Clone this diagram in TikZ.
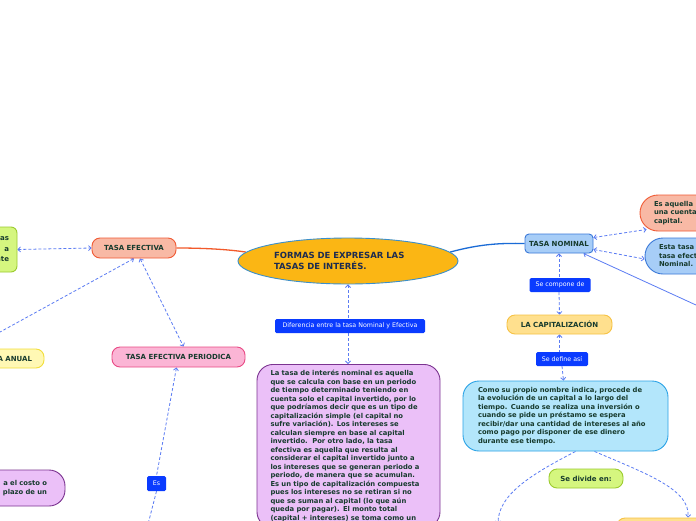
\documentclass[tikz,border=0pt]{standalone}
\usepackage{fontspec}
\setmainfont{DejaVu Sans}
\usetikzlibrary{shapes.geometric, positioning, arrows.meta, backgrounds}

\definecolor{mainfill}{HTML}{FBB614}
\definecolor{mainline}{HTML}{3B8FCB}
\definecolor{titlenavy}{HTML}{1C2B50}
\definecolor{txtgreen}{HTML}{173B2E}
\definecolor{salmonfill}{HTML}{F8B9A5}
\definecolor{salmonline}{HTML}{F05A34}
\definecolor{bluefill}{HTML}{A7CDF7}
\definecolor{blueline}{HTML}{3A78D8}
\definecolor{limefill}{HTML}{D5F67F}
\definecolor{limeline}{HTML}{9BCB2E}
\definecolor{yellowfill}{HTML}{FFF8B4}
\definecolor{yellowline}{HTML}{F2DE3A}
\definecolor{pinkfill}{HTML}{FBB5D5}
\definecolor{pinkline}{HTML}{E94A85}
\definecolor{purplefill}{HTML}{EBC0F8}
\definecolor{purpleline}{HTML}{7B3390}
\definecolor{goldfill}{HTML}{FFE08E}
\definecolor{goldline}{HTML}{F6C244}
\definecolor{cyanfill}{HTML}{B3E6FB}
\definecolor{cyanline}{HTML}{2BA3E6}
\definecolor{relblue}{HTML}{0A3BFF}
\definecolor{linkblue}{HTML}{5B7CF3}
\definecolor{efectivaline}{HTML}{F25A2B}
\definecolor{nominalline}{HTML}{1A6BD6}

\begin{document}
\begin{tikzpicture}[
    x=1pt, y=-1pt,
    topic/.style={rectangle, draw, line width=0.9pt, rounded corners=8pt, font=\fontsize{7}{8.5}\selectfont\bfseries, text=txtgreen, inner sep=0pt},
    note/.style={rectangle, draw, line width=0.9pt, rounded corners=16pt, font=\fontsize{6.8}{8.5}\selectfont\bfseries, text=txtgreen, align=left, inner sep=0pt},
    rel/.style={rectangle, fill=relblue, text=white, rounded corners=1.5pt, font=\fontsize{6.3}{7.5}\selectfont, inner sep=0pt},
    link/.style={draw=linkblue, line width=0.8pt, dash pattern=on 3pt off 2pt},
    solidlink/.style={draw=linkblue, line width=0.8pt},
    trunk/.style={line width=1.3pt},
    >={Straight Barb[length=2.5pt, width=5pt]},
]
\path[use as bounding box] (0,0) rectangle (696,520);
\clip (0,0) rectangle (696,520);

%% NODES
    % central topic
    \node[ellipse, draw=mainline, fill=mainfill, line width=0.9pt, minimum width=220pt, minimum height=46pt, text width=148pt, align=left, text=titlenavy, font=\fontsize{8.5}{11}\selectfont\bfseries] (main) at (348,261) {FORMAS DE EXPRESAR LAS\\TASAS DE INTERÉS.};

    % tasa efectiva
    \node[topic, fill=salmonfill, draw=salmonline, minimum width=84pt, minimum height=20pt] (tasa_efectiva) at (134,248) {TASA EFECTIVA};
    \node[note, fill=limefill, draw=limeline, rounded corners=6pt, minimum width=77pt, minimum height=45pt, text width=61pt, align=right, font=\fontsize{7}{10.5}\selectfont\bfseries] (efectiva_note) at (-21.5,249.5) {as\\a\\nte};
    \node[topic, fill=yellowfill, draw=yellowline, minimum width=104pt, minimum height=19pt, text width=80pt, align=right] (efectiva_anual) at (-8,358.5) {A ANUAL};
    \node[topic, fill=pinkfill, draw=pinkline, minimum width=133pt, minimum height=20pt] (efectiva_periodica) at (178.5,357) {TASA EFECTIVA PERIODICA};
    \node[rel, minimum width=19pt, minimum height=15pt] (es_rel) at (156.5,483.5) {Es};
    \node[note, fill=purplefill, draw=purpleline, minimum width=125pt, minimum height=36pt, text width=89pt, align=right, font=\fontsize{6.8}{9}\selectfont\bfseries] (periodica_note) at (2.5,488) {a el costo o\\plazo de un};
    \coordinate (anual_far) at (-20,343);
    \coordinate (es_far) at (146,532);

    % diferencia
    \node[rel, minimum width=150pt, minimum height=14pt] (diferencia_rel) at (350,326) {Diferencia entre la tasa Nominal y Efectiva};
    \node[note, fill=purplefill, draw=purpleline, anchor=north, text width=156pt, inner xsep=13.5pt, inner ysep=6pt] (diferencia_note) at (348.5,364) {La tasa de interés nominal es aquella\\
que se calcula con base en un periodo\\
de tiempo determinado teniendo en\\
cuenta solo el capital invertido, por lo\\
que podríamos decir que es un tipo de\\
capitalización simple (el capital no\\
sufre variación). Los intereses se\\
calculan siempre en base al capital\\
invertido.\ \ Por otro lado, la tasa\\
efectiva es aquella que resulta al\\
considerar el capital invertido junto a\\
los intereses que se generan periodo a\\
periodo, de manera que se acumulan.\\
Es un tipo de capitalización compuesta\\
pues los intereses no se retiran si no\\
que se suman al capital (lo que aún\\
queda por pagar). El monto total\\
(capital + intereses) se toma como un};

    % tasa nominal
    \node[topic, fill=bluefill, draw=blueline, rounded corners=4pt, minimum width=68pt, minimum height=19pt] (tasa_nominal) at (559,243.5) {TASA NOMINAL};
    \node[note, fill=salmonfill, draw=salmonline, rounded corners=18pt, minimum width=120pt, minimum height=36pt, text width=92pt] (nominal_note_a) at (700,213) {Es aquella\\una cuenta\\capital.};
    \node[note, fill=bluefill, draw=blueline, rounded corners=18pt, minimum width=115pt, minimum height=36pt, text width=87pt] (nominal_note_b) at (702.5,256) {Esta tasa\\tasa efect\\Nominal.};
    \coordinate (nominal_far) at (720,316);
    \node[rel, minimum width=61pt, minimum height=14pt] (compone_rel) at (560,285) {Se compone de};
    \node[topic, fill=goldfill, draw=goldline, minimum width=105pt, minimum height=19pt] (capitalizacion) at (559.5,324.5) {LA CAPITALIZACIÓN};
    \node[rel, minimum width=52pt, minimum height=14pt] (define_rel) at (562,359) {Se define así};
    \node[note, fill=cyanfill, draw=cyanline, minimum width=205pt, minimum height=70pt, text width=175pt] (capitalizacion_note) at (565.5,416) {Como su propio nombre indica, procede de\\
la evolución de un capital a lo largo del\\
tiempo. Cuando se realiza una inversión o\\
cuando se pide un préstamo se espera\\
recibir/dar una cantidad de intereses al año\\
como pago por disponer de ese dinero\\
durante ese tiempo.};
    \node[topic, fill=limefill, draw=limeline, minimum width=74pt, minimum height=19pt] (divide_rel) at (586,478.5) {Se divide en:};
    \node[topic, fill=goldfill, draw=goldline, minimum width=142pt, minimum height=44pt] (divide_right) at (688,540) {};
    \coordinate (divide_left) at (498,524);

%% CONNECTIONS
\begin{scope}[on background layer]
    \fill[white] (0,0) rectangle (696,520);

    % main branches
    \draw[trunk, draw=efectivaline] (tasa_efectiva.east) .. controls (210,248) and (232,250) .. (main.175);
    \draw[trunk, draw=nominalline] (main.5) .. controls (480,244) and (500,243) .. (tasa_nominal.west);

    % tasa efectiva
    \draw[link, <->] (efectiva_note.east) -- (tasa_efectiva.west);
    \draw[link, <-] (tasa_efectiva.south) -- (anual_far);
    \draw[link, <->] ([xshift=6pt]tasa_efectiva.south) -- ([xshift=5pt]efectiva_periodica.north);
    \draw[link, <-] ([xshift=-2pt]efectiva_periodica.south) -- (es_rel.north);
    \draw[link] (es_rel.south) -- (es_far);

    % diferencia
    \draw[link, <-] (main.south) -- (main.south |- diferencia_rel.north);
    \draw[link, ->] (main.south |- diferencia_rel.south) -- (main.south |- diferencia_note.north);

    % tasa nominal
    \draw[link, <->] ([yshift=-4pt]tasa_nominal.north east) -- ([xshift=7pt, yshift=2pt]nominal_note_a.south west);
    \draw[link, <->] ([yshift=-6pt]tasa_nominal.east) -- ([yshift=-3pt]nominal_note_b.west);
    \draw[solidlink, <-] ([xshift=-10pt]tasa_nominal.south east) -- (nominal_far);
    \draw[link, <-] (tasa_nominal.south) -- (tasa_nominal.south |- compone_rel.north);
    \draw[link, ->] (tasa_nominal.south |- compone_rel.south) -- (capitalizacion.north);
    \draw[link, <-] (capitalizacion.south) -- (capitalizacion.south |- define_rel.north);
    \draw[link, ->] (define_rel.south) -- ([xshift=-2pt]capitalizacion_note.north);
    \draw[link, ->] ([xshift=10pt]capitalizacion_note.south) .. controls (530,475) and (498,495) .. (divide_left);
    \draw[link, ->] ([xshift=29pt]capitalizacion_note.south) .. controls (650,475) and (690,490) .. (divide_right.north);
\end{scope}

\end{tikzpicture}
\end{document}
